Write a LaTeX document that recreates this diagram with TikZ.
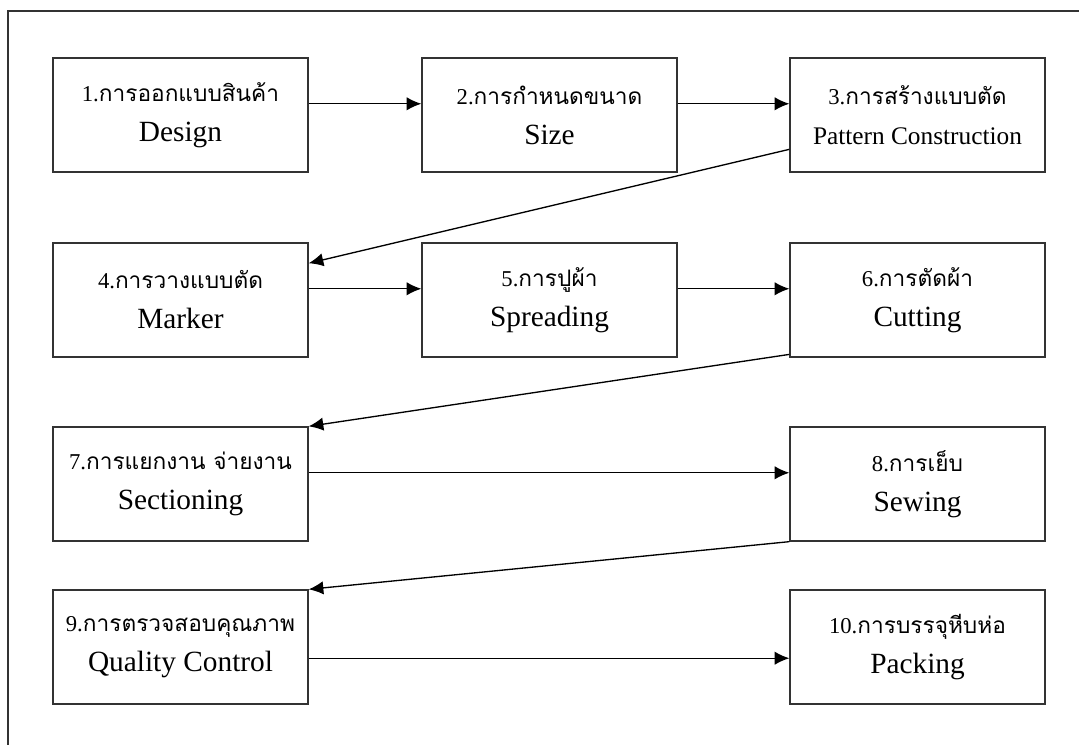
\documentclass[tikz,border=0pt]{standalone}
\usepackage{fontspec}
\setmainfont{Liberation Serif}
\newfontfamily\thaifont[Script=Thai]{Loma}
\usetikzlibrary{arrows.meta}
\tikzset{stepbox/.style={draw=black!80, line width=1pt, minimum width=191.25pt, minimum height=85.5pt,
  align=center, inner sep=0pt, font=\fontsize{22}{30}\selectfont}}
\newcommand{\thline}[2]{{\fontsize{17}{30}\selectfont #1\thaifont #2}}
\begin{document}
\begin{tikzpicture}[>={Latex[length=11pt,width=10pt]}, x=.75pt, y=-.75pt]
\useasboundingbox (0,0) rectangle (1079,745);
\draw[black!80, line width=1pt](1079,11)--(8,11)--(8,745);

\node[stepbox](s1) at (180.5,115){\thline{1.}{การออกแบบสินค้า}\\Design};
\node[stepbox](s2) at (549.5,115){\thline{2.}{การกำหนดขนาด}\\Size};
\node[stepbox, font=\fontsize{19}{30}\selectfont](s3) at (917.5,115){\thline{3.}{การสร้างแบบตัด}\\Pattern Construction};

\node[stepbox](s4) at (180.5,300){\thline{4.}{การวางแบบตัด}\\Marker};
\node[stepbox](s5) at (549.5,300){\thline{5.}{การปูผ้า}\\Spreading};
\node[stepbox](s6) at (917.5,300){\thline{6.}{การตัดผ้า}\\Cutting};

\node[stepbox](s7) at (180.5,484){\thline{7.}{การแยกงาน จ่ายงาน}\\Sectioning};
\node[stepbox](s8) at (917.5,484){\thline{8.}{การเย็บ}\\Sewing};

\node[stepbox](s9) at (180.5,647){\thline{9.}{การตรวจสอบคุณภาพ}\\Quality Control};
\node[stepbox](s10) at (917.5,647){\thline{10.}{การบรรจุหีบห่อ}\\Packing};

\draw[->, line width=1pt](s1.5)--(s2.175);
\draw[->, line width=1pt](s2.5)--(s3.175);
\draw[->, line width=1pt](s3.195)--(s4.16);
\draw[->, line width=1pt](s4.5)--(s5.175);
\draw[->, line width=1pt](s5.5)--(s6.175);
\draw[->, line width=1pt](s6.203)--(s7.north east);
\draw[->, line width=1pt](s7.5)--(s8.175);
\draw[->, line width=1pt](s8.south west)--(s9.north east);
\draw[->, line width=1pt](s9.-5)--(s10.185);
\end{tikzpicture}
\end{document}
